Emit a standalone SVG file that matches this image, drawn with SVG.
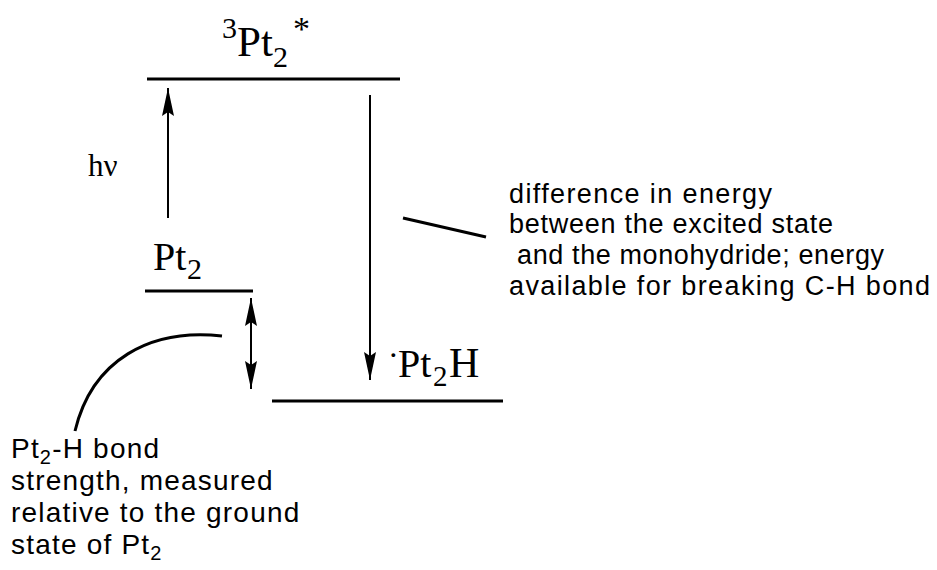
<svg xmlns="http://www.w3.org/2000/svg" width="937" height="570" viewBox="0 0 937 570">
<defs>
<marker id="big" viewBox="0 0 28 12" refX="28" refY="6" markerWidth="28" markerHeight="12" markerUnits="userSpaceOnUse" orient="auto-start-reverse">
<path d="M0,0 L28,6 L0,12 L4,6 Z" fill="#000"/>
</marker>
</defs>
<style>
.lvl{stroke:#000;stroke-width:3;fill:none}
.ln{stroke:#000;stroke-width:2;fill:none}
.cv{stroke:#000;stroke-width:3;fill:none}
.tm{font-family:"Liberation Serif","Times New Roman",serif;fill:#000}
.sn{font-family:"Liberation Sans",Arial,sans-serif;font-size:27px;fill:#000}
.sl{font-family:"Liberation Sans",Arial,sans-serif;font-size:28px;fill:#000;letter-spacing:1.2px}
</style>
<rect width="937" height="570" fill="#fff"/>
<g id="excited">
<line class="lvl" x1="147" y1="79" x2="400" y2="79"/>
<text class="tm" font-size="43"><tspan x="222" y="38" font-size="30">3</tspan><tspan x="237" y="56">Pt</tspan><tspan x="273" y="67" font-size="30">2</tspan><tspan x="293" y="40" font-size="34">*</tspan></text>
</g>
<g id="ground">
<line class="lvl" x1="145" y1="291" x2="253" y2="291"/>
<text class="tm" font-size="40"><tspan x="153" y="270">Pt</tspan><tspan x="187" y="279" font-size="30">2</tspan></text>
</g>
<g id="hydride">
<line class="lvl" x1="272" y1="401" x2="503" y2="401"/>
<text class="tm" font-size="40"><tspan x="388" y="366" font-size="32">·</tspan><tspan x="398" y="377">Pt</tspan><tspan x="433" y="386" font-size="29">2</tspan><tspan x="449" y="377" font-size="42">H</tspan></text>
</g>
<g id="hv">
<text class="tm" x="88" y="176" font-size="31">hν</text>
</g>
<g id="note-right">
<text class="sn" x="509" y="203" textLength="263" lengthAdjust="spacing">difference in energy</text>
<text class="sn" x="509" y="233" textLength="324" lengthAdjust="spacing">between the excited state</text>
<text class="sn" x="509" y="264" textLength="375" lengthAdjust="spacing" xml:space="preserve"> and the monohydride; energy</text>
<text class="sn" x="509" y="295" textLength="421" lengthAdjust="spacing">available for breaking C-H bond</text>
</g>
<g id="note-left">
<text class="sl" x="11" y="458">Pt<tspan font-size="20" dy="6">2</tspan><tspan dy="-6">-H bond</tspan></text>
<text class="sl" x="11" y="490">strength, measured</text>
<text class="sl" x="11" y="522">relative to the ground</text>
<text class="sl" x="11" y="554">state of Pt<tspan font-size="20" dy="6">2</tspan></text>
</g>
<g id="connectors">
<line class="ln" x1="168" y1="218" x2="168" y2="88" marker-end="url(#big)"/>
<line class="ln" x1="370" y1="95" x2="370" y2="380" marker-end="url(#big)"/>
<line class="ln" x1="251" y1="298" x2="251" y2="389" marker-start="url(#big)" marker-end="url(#big)"/>
<line class="cv" x1="403" y1="218" x2="486" y2="237"/>
<path class="cv" d="M222,336 C150,328 92,360 75,431"/>
</g>
</svg>
